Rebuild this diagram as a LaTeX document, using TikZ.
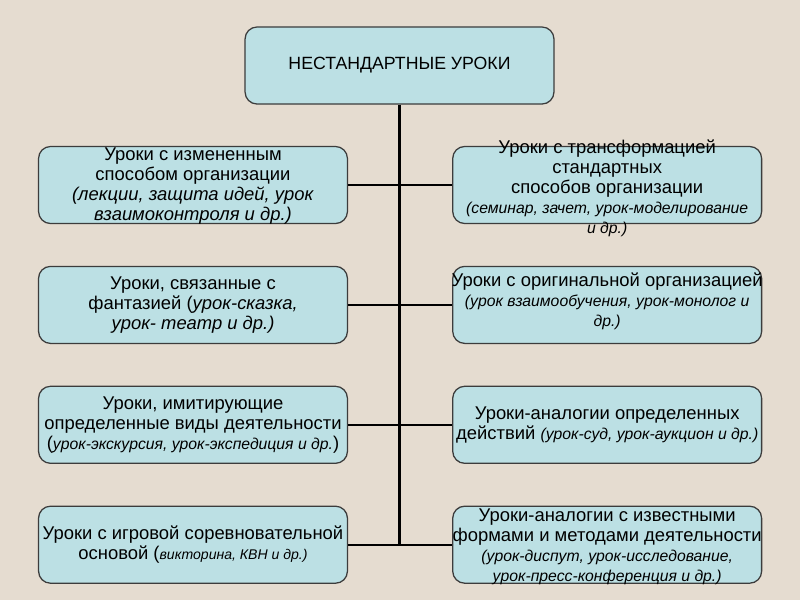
\documentclass[tikz,border=0pt]{standalone}
\usepackage{fontspec}
\setmainfont{Liberation Sans}
\usetikzlibrary{positioning}
\definecolor{Paper}{HTML}{E5DCD0}
\definecolor{BoxCyan}{HTML}{BCE0E4}
\definecolor{Edge}{HTML}{3C3C3C}
\newcommand{\smit}[1]{{\fontsize{11.2}{12.2}\selectfont\itshape #1}}
\newcommand{\tinyit}[1]{{\fontsize{10}{11}\selectfont\itshape #1}}
\tikzset{
  lessonbox/.style={
    rectangle, rounded corners=8.5pt, draw=Edge, line width=0.9pt, fill=BoxCyan,
    minimum width=7.72cm, minimum height=1.925cm, inner sep=0pt
  },
  lessontext/.style={
    align=center, inner sep=0pt, font=\fontsize{13.1}{14.2}\selectfont
  },
  trunk/.style={black, line width=2.3pt},
  branch/.style={black, line width=1.3pt},
}
\begin{document}
\begin{tikzpicture}[x=0.025cm, y=-0.025cm, node distance=1.04cm]
    \fill[Paper] (0,0) rectangle (800,600);
    \useasboundingbox (0,0) rectangle (800,600);
    % boxes
    \node[lessonbox] (top) at (399.5,65.5) {};
    \node[lessonbox] (L1) at (193,185) {};
    \node[lessonbox, below=of L1] (L2) {};
    \node[lessonbox, below=of L2] (L3) {};
    \node[lessonbox, below=of L3] (L4) {};
    \node[lessonbox, right=2.6cm of L1] (R1) {};
    \node[lessonbox, right=2.6cm of L2] (R2) {};
    \node[lessonbox, right=2.6cm of L3] (R3) {};
    \node[lessonbox, right=2.6cm of L4] (R4) {};
    % connectors
    \coordinate (foot) at (top.south |- L4.east);
    \draw[trunk] (top.south) -- (foot);
    \draw[branch] (L1.east) -- (R1.west);
    \draw[branch] (L2.east) -- (R2.west);
    \draw[branch] (L3.east) -- (R3.west);
    \draw[branch] (L4.east) -- (R4.west);
    % texts
    \node[lessontext, font=\fontsize{12.6}{14}\selectfont] (topt) at (top) {НЕСТАНДАРТНЫЕ УРОКИ};
    \node[lessontext] (L1t) at ([yshift=-0.03cm]L1) {Уроки с измененным\\способом организации\\\textit{(лекции, защита идей, урок}\\\textit{взаимоконтроля и др.)}};
    \node[lessontext] (L2t) at (L2) {Уроки, связанные с\\фантазией (\textit{урок-сказка,}\\\textit{урок- театр и др.)}};
    \node[lessontext] (L3t) at (L3) {Уроки, имитирующие\\определенные виды деятельности\\(\smit{урок-экскурсия, урок-экспедиция и др.})};
    \node[lessontext] (L4t) at (L4) {Уроки с игровой соревновательной\\основой (\tinyit{викторина, КВН и др.)}};
    \node[lessontext] (R1t) at ([yshift=-0.08cm]R1) {Уроки с трансформацией\\стандартных\\способов организации\\\smit{(семинар, зачет, урок-моделирование}\\\smit{и др.)}};
    \node[lessontext] (R2t) at ([yshift=0.1cm]R2) {Уроки с оригинальной организацией\\\smit{(урок взаимообучения, урок-монолог и}\\\smit{др.)}};
    \node[lessontext] (R3t) at (R3) {Уроки-аналогии определенных\\действий \smit{(урок-суд, урок-аукцион и др.)}};
    \node[lessontext] (R4t) at ([yshift=-0.05cm]R4) {Уроки-аналогии с известными\\формами и методами деятельности\\\smit{(урок-диспут, урок-исследование,}\\\smit{урок-пресс-конференция и др.)}};
\end{tikzpicture}
\end{document}
